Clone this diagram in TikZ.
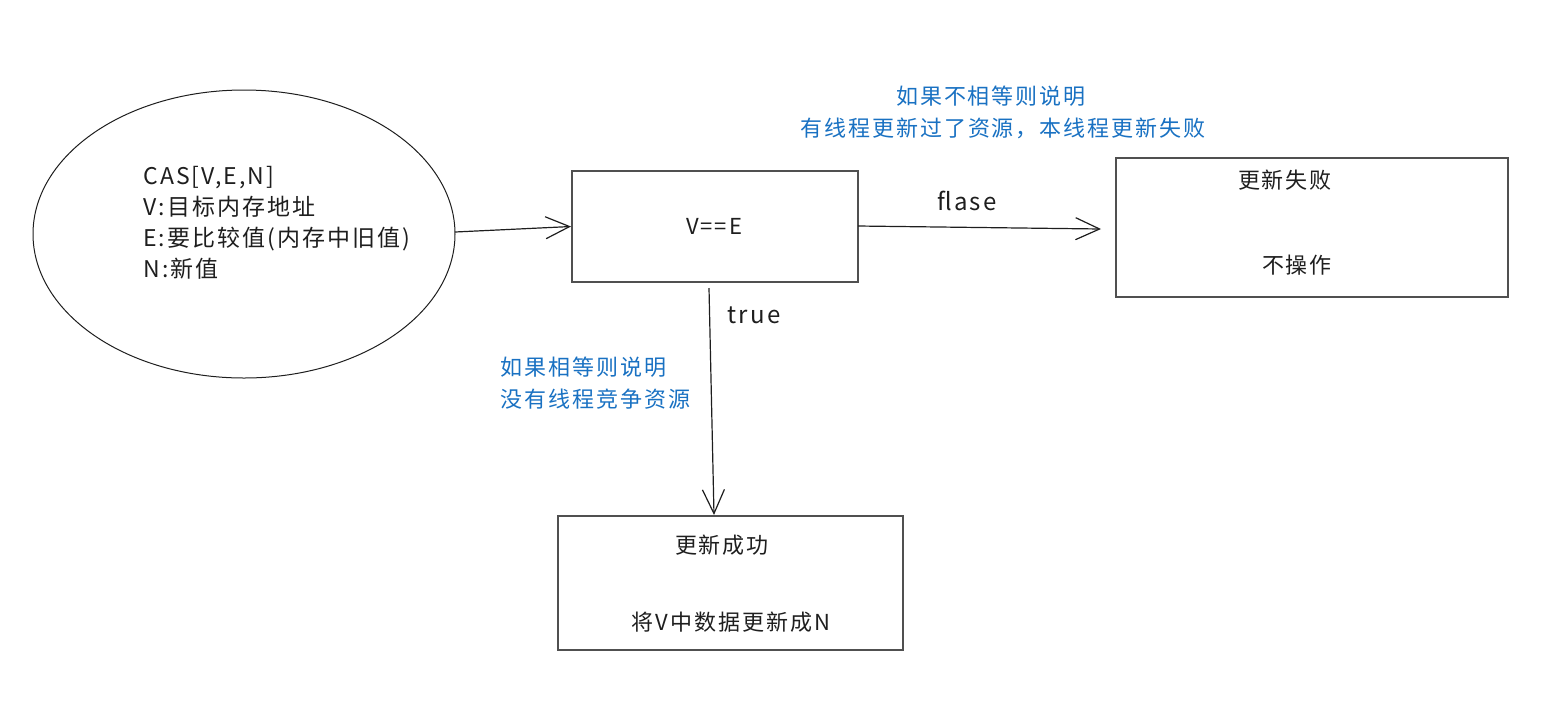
\documentclass[tikz,border=0pt]{standalone}
\usepackage{fontspec}
\setmainfont[LetterSpace=9]{Noto Sans CJK SC}
\usetikzlibrary{arrows.meta,shapes.geometric}
\definecolor{ink}{RGB}{30,30,30}
\definecolor{boxline}{RGB}{80,80,80}
\definecolor{note}{RGB}{25,113,194}
\tikzset{
  box/.style={draw=boxline, line width=1pt, rectangle, inner sep=0pt},
  lbl/.style={font=\fontsize{11}{14}\selectfont, text=ink, inner sep=0pt},
  notetext/.style={font=\fontsize{11}{16}\selectfont, text=note, inner sep=0pt},
  conn/.style={draw=ink, line width=0.6pt, -{Straight Barb[length=12pt,width=11pt,line width=0.6pt]}},
}
\begin{document}
\begin{tikzpicture}[x=0.5pt,y=-0.5pt]
\useasboundingbox (0,0) rectangle (1543,714);
% ellipse
\node[draw=ink, line width=0.5pt, ellipse, minimum width=422*0.5pt, minimum height=288*0.5pt, inner sep=0pt] (cas) at (244,234) {};
\node[lbl, anchor=north west, align=left, font=\fontsize{11.5}{15.5}\selectfont] (castext) at (143,166)
  {CAS[V,E,N]\\V:目标内存地址\\E:要比较值(内存中旧值)\\N:新值};
% compare box
\node[box, minimum width=286*0.5pt, minimum height=111*0.5pt] (cmp) at (715,226.5) {};
\node[lbl] (cmptext) at (714,226) {V==E};
% fail box
\node[box, minimum width=392*0.5pt, minimum height=139*0.5pt] (fail) at (1312,227.5) {};
\node[lbl] (failt1) at (1285,180) {更新失败};
\node[lbl] (failt2) at (1297,265) {不操作};
% success box
\node[box, minimum width=345*0.5pt, minimum height=134*0.5pt] (ok) at (730.5,583) {};
\node[lbl] (okt1) at (722,545) {更新成功};
\node[lbl] (okt2) at (731,622) {将V中数据更新成N};
% notes
\node[notetext] (n1a) at (991,96) {如果不相等则说明};
\node[notetext] (n1b) at (1003,128) {有线程更新过了资源，本线程更新失败};
\node[notetext, anchor=north west, align=left] (n2) at (500,356) {如果相等则说明\\没有线程竞争资源};
% labels
\node[lbl, font=\fontsize{12}{14}\selectfont] (flase) at (967,201) {flase};
\node[lbl, font=\fontsize{12}{14}\selectfont] (true) at (754,315) {true};
% connectors
\coordinate (a1s) at (455,232);
\coordinate (a2s) at (858,226);
\coordinate (a2e) at (1101,229);
\coordinate (a3s) at (709,288);
\coordinate (a3e) at (714,515);
\draw[conn] (a1s) -- (cmp.west);
\draw[conn] (a2s) -- (a2e);
\draw[conn] (a3s) -- (a3e);
\end{tikzpicture}
\end{document}
